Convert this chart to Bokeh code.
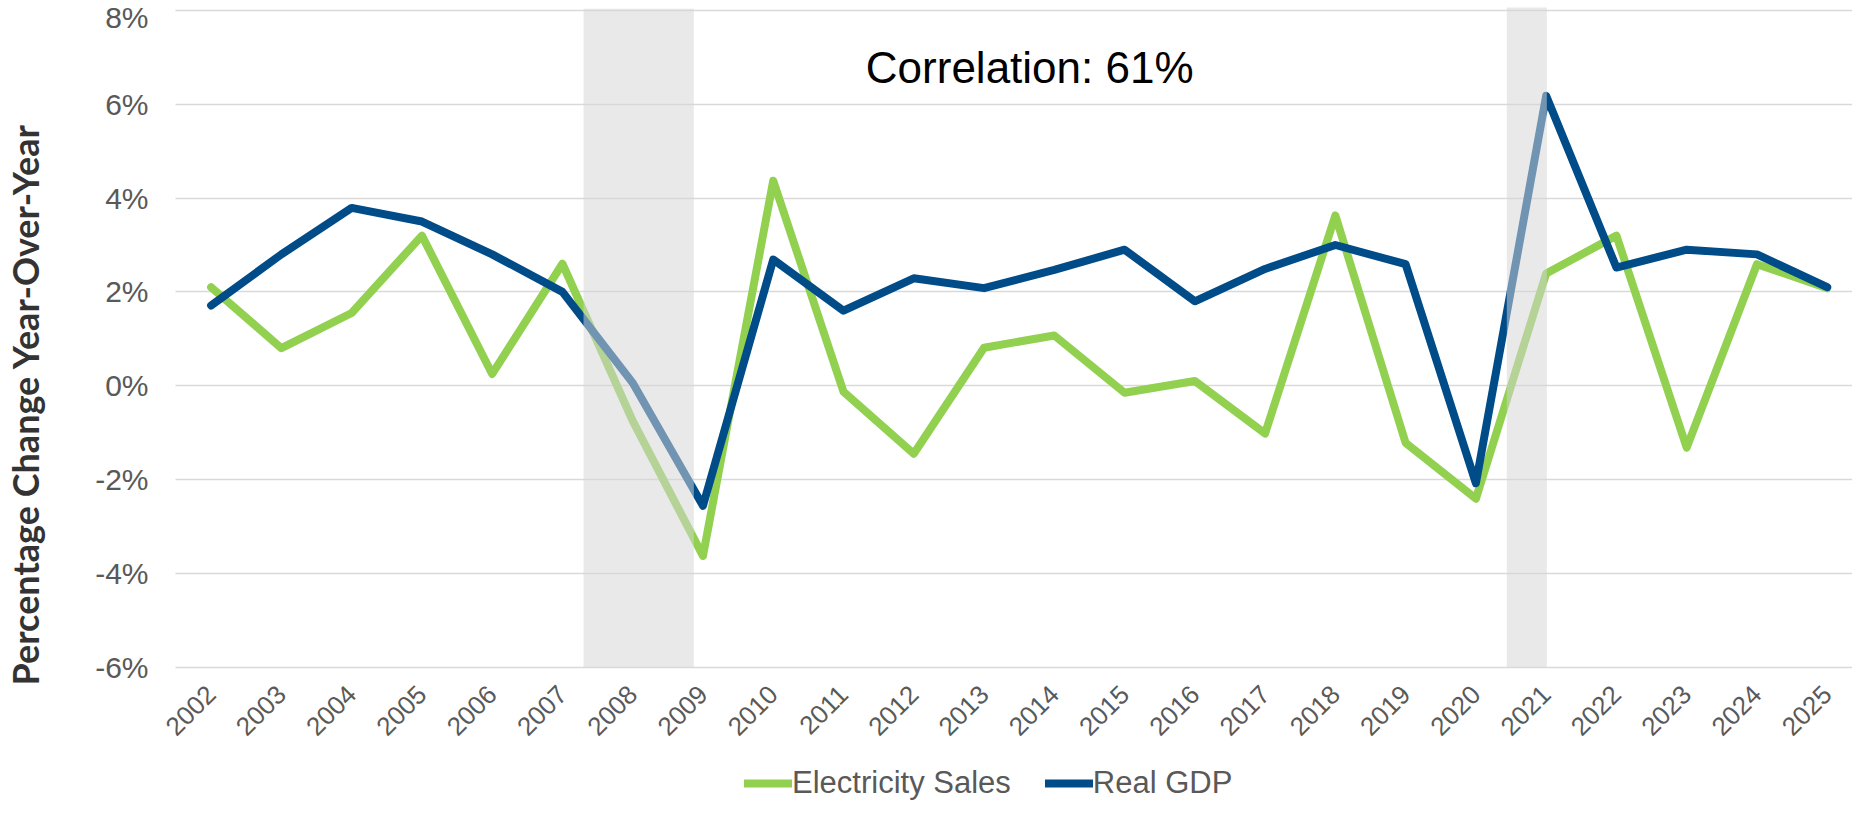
from math import pi
from bokeh.plotting import figure
from bokeh.models import (FixedTicker, Legend, LegendItem, Range1d, Label,
                          PrintfTickFormatter, ColumnDataSource)
from bokeh.embed import file_html
from bokeh.resources import INLINE

# ---- data ----
years = list(range(2002, 2026))
electricity_sales = [2.10, 0.80, 1.55, 3.20, 0.25, 2.60, -0.75, -3.63, 4.37, -0.13,
                     -1.45, 0.81, 1.07, -0.15, 0.10, -1.02, 3.63, -1.22, -2.41, 2.39,
                     3.20, -1.32, 2.59, 2.08]
real_gdp = [1.71, 2.80, 3.79, 3.50, 2.80, 2.00, 0.06, -2.56, 2.69, 1.60,
            2.29, 2.08, 2.47, 2.90, 1.80, 2.49, 3.00, 2.59, -2.08, 6.18,
            2.52, 2.90, 2.80, 2.10]
recession_start = [2007.30, 2020.44]
recession_end = [2008.87, 2021.01]
recession_top = [8.04, 8.10]
recession_bottom = [-6.0, -6.0]
y_ticks = [-6, -4, -2, 0, 2, 4, 6, 8]
correlation_text = "Correlation: 61%"
y_title = "Percentage Change Year-Over-Year"

GREEN = "#92D050"
BLUE = "#004C89"

# frame extends to the bottom of the figure; the x axis sits at y = -6
p = figure(width=1852, height=801, output_backend="svg", toolbar_location=None,
           x_range=Range1d(2001.18, 2025.36), y_range=Range1d(-8.866, 8.064),
           min_border_left=142, min_border_right=0, min_border_top=7,
           min_border_bottom=0)
p.outline_line_color = None
p.background_fill_color = "white"
p.border_fill_color = "white"

p.xgrid.grid_line_color = None
p.ygrid.grid_line_color = "#D9D9D9"
p.ygrid.grid_line_width = 1.5
if "cross_bounds" in p.ygrid[0].properties():
    p.ygrid[0].cross_bounds = (2001.5, 2025.36)

# y axis
p.yaxis.ticker = FixedTicker(ticks=y_ticks)
p.yaxis.formatter = PrintfTickFormatter(format="%d%%")
p.yaxis.axis_line_color = None
p.yaxis.major_tick_line_color = None
p.yaxis.minor_tick_line_color = None
p.yaxis.major_tick_out = 0
p.yaxis.major_tick_in = 0
p.yaxis.major_label_standoff = 5
p.yaxis.major_label_text_font = "Liberation Sans"
p.yaxis.major_label_text_font_size = "30px"
p.yaxis.major_label_text_color = "#595959"
p.yaxis.axis_label = y_title
p.yaxis.axis_label_text_font = "Lato"
p.yaxis.axis_label_text_font_style = "bold"
p.yaxis.axis_label_text_font_size = "36px"
p.yaxis.axis_label_text_color = "#333333"
p.yaxis.axis_label_standoff = 45

# x axis
p.xaxis.fixed_location = -6.02
p.xaxis.ticker = FixedTicker(ticks=years)
p.xaxis.axis_line_color = None
p.xaxis.major_tick_line_color = None
p.xaxis.minor_tick_line_color = None
p.xaxis.major_tick_out = 0
p.xaxis.major_tick_in = 0
p.xaxis.major_label_standoff = 22
p.xaxis.major_label_orientation = pi / 4
p.xaxis.major_label_text_font = "Liberation Sans"
p.xaxis.major_label_text_font_size = "26px"
p.xaxis.major_label_text_color = "#595959"

g = p.line(years, electricity_sales, line_color=GREEN, line_width=8,
           line_cap="round", line_join="round")
b = p.line(years, real_gdp, line_color=BLUE, line_width=8,
           line_cap="round", line_join="round")

rec = ColumnDataSource(dict(left=recession_start, right=recession_end,
                            top=recession_top, bottom=recession_bottom))
p.quad(left="left", right="right", top="top", bottom="bottom", source=rec,
       fill_color="#D5D5D5", fill_alpha=0.525, line_color=None)

p.add_layout(Label(x=2013.65, y=6.78, text=correlation_text, text_align="center",
                   text_baseline="middle", text_font="Liberation Sans",
                   text_font_size="44px", text_color="black"))

legend = Legend(items=[LegendItem(label="Electricity Sales", renderers=[g]),
                       LegendItem(label="Real GDP", renderers=[b])],
                location=(591, 0), orientation="horizontal",
                padding=0, margin=0, spacing=34, label_standoff=0,
                glyph_width=48, glyph_height=30, label_height=30,
                border_line_color=None, background_fill_alpha=0,
                label_text_font="Liberation Sans", label_text_font_size="31px",
                label_text_color="#595959")
p.add_layout(legend)

open("out.html", "w").write(file_html(p, INLINE))
